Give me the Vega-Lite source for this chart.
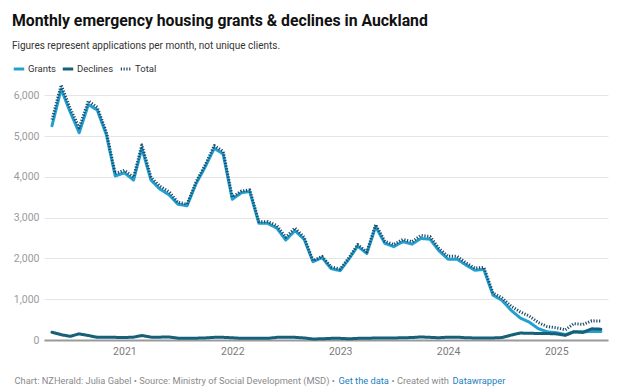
{
  "$schema": "https://vega.github.io/schema/vega-lite/v6.json",
  "width": 564,
  "height": 257,
  "autosize": {"type": "none"},
  "padding": {"left": 44, "top": 83, "right": 11, "bottom": 52},
  "background": "white",
  "config": {"view": {"stroke": null}, "font": "Roboto"},
  "title": {
    "text": "Monthly emergency housing grants & declines in Auckland",
    "subtitle": "Figures represent applications per month, not unique clients.",
    "anchor": "start",
    "frame": "group",
    "dx": -32,
    "font": "Roboto",
    "fontSize": 15.8,
    "fontWeight": "bold",
    "color": "#111111",
    "subtitleFont": "Roboto",
    "subtitleFontSize": 10,
    "subtitleColor": "#333333",
    "subtitlePadding": 11,
    "offset": 10
  },
  "data": {
    "values": [
      {"month": "2020-05-01", "Grants": 5250, "Declines": 190, "Total": 5400},
      {"month": "2020-06-01", "Grants": 6150, "Declines": 130, "Total": 6250},
      {"month": "2020-07-01", "Grants": 5600, "Declines": 90, "Total": 5690},
      {"month": "2020-08-01", "Grants": 5080, "Declines": 150, "Total": 5200},
      {"month": "2020-09-01", "Grants": 5770, "Declines": 110, "Total": 5860},
      {"month": "2020-10-01", "Grants": 5640, "Declines": 65, "Total": 5705},
      {"month": "2020-11-01", "Grants": 5030, "Declines": 70, "Total": 5100},
      {"month": "2020-12-01", "Grants": 4020, "Declines": 65, "Total": 4085},
      {"month": "2021-01-01", "Grants": 4100, "Declines": 60, "Total": 4160},
      {"month": "2021-02-01", "Grants": 3920, "Declines": 70, "Total": 3990},
      {"month": "2021-03-01", "Grants": 4700, "Declines": 110, "Total": 4780},
      {"month": "2021-04-01", "Grants": 3920, "Declines": 70, "Total": 3990},
      {"month": "2021-05-01", "Grants": 3700, "Declines": 70, "Total": 3770},
      {"month": "2021-06-01", "Grants": 3560, "Declines": 75, "Total": 3635},
      {"month": "2021-07-01", "Grants": 3330, "Declines": 45, "Total": 3375},
      {"month": "2021-08-01", "Grants": 3290, "Declines": 40, "Total": 3330},
      {"month": "2021-09-01", "Grants": 3840, "Declines": 45, "Total": 3885},
      {"month": "2021-10-01", "Grants": 4240, "Declines": 50, "Total": 4290},
      {"month": "2021-11-01", "Grants": 4700, "Declines": 65, "Total": 4765},
      {"month": "2021-12-01", "Grants": 4560, "Declines": 65, "Total": 4625},
      {"month": "2022-01-01", "Grants": 3450, "Declines": 55, "Total": 3505},
      {"month": "2022-02-01", "Grants": 3610, "Declines": 40, "Total": 3650},
      {"month": "2022-03-01", "Grants": 3640, "Declines": 40, "Total": 3680},
      {"month": "2022-04-01", "Grants": 2860, "Declines": 40, "Total": 2900},
      {"month": "2022-05-01", "Grants": 2860, "Declines": 40, "Total": 2900},
      {"month": "2022-06-01", "Grants": 2740, "Declines": 65, "Total": 2805},
      {"month": "2022-07-01", "Grants": 2450, "Declines": 65, "Total": 2515},
      {"month": "2022-08-01", "Grants": 2680, "Declines": 65, "Total": 2745},
      {"month": "2022-09-01", "Grants": 2470, "Declines": 50, "Total": 2520},
      {"month": "2022-10-01", "Grants": 1920, "Declines": 25, "Total": 1945},
      {"month": "2022-11-01", "Grants": 2020, "Declines": 30, "Total": 2050},
      {"month": "2022-12-01", "Grants": 1750, "Declines": 40, "Total": 1790},
      {"month": "2023-01-01", "Grants": 1700, "Declines": 40, "Total": 1740},
      {"month": "2023-02-01", "Grants": 2000, "Declines": 30, "Total": 2030},
      {"month": "2023-03-01", "Grants": 2300, "Declines": 40, "Total": 2340},
      {"month": "2023-04-01", "Grants": 2120, "Declines": 40, "Total": 2160},
      {"month": "2023-05-01", "Grants": 2780, "Declines": 50, "Total": 2830},
      {"month": "2023-06-01", "Grants": 2370, "Declines": 50, "Total": 2420},
      {"month": "2023-07-01", "Grants": 2290, "Declines": 50, "Total": 2340},
      {"month": "2023-08-01", "Grants": 2410, "Declines": 55, "Total": 2465},
      {"month": "2023-09-01", "Grants": 2350, "Declines": 60, "Total": 2410},
      {"month": "2023-10-01", "Grants": 2490, "Declines": 75, "Total": 2565},
      {"month": "2023-11-01", "Grants": 2470, "Declines": 65, "Total": 2535},
      {"month": "2023-12-01", "Grants": 2190, "Declines": 55, "Total": 2245},
      {"month": "2024-01-01", "Grants": 1980, "Declines": 70, "Total": 2050},
      {"month": "2024-02-01", "Grants": 1980, "Declines": 70, "Total": 2050},
      {"month": "2024-03-01", "Grants": 1840, "Declines": 55, "Total": 1895},
      {"month": "2024-04-01", "Grants": 1710, "Declines": 50, "Total": 1760},
      {"month": "2024-05-01", "Grants": 1730, "Declines": 50, "Total": 1780},
      {"month": "2024-06-01", "Grants": 1100, "Declines": 50, "Total": 1150},
      {"month": "2024-07-01", "Grants": 975, "Declines": 60, "Total": 1035},
      {"month": "2024-08-01", "Grants": 730, "Declines": 120, "Total": 830},
      {"month": "2024-09-01", "Grants": 540, "Declines": 170, "Total": 690},
      {"month": "2024-10-01", "Grants": 440, "Declines": 165, "Total": 590},
      {"month": "2024-11-01", "Grants": 280, "Declines": 160, "Total": 430},
      {"month": "2024-12-01", "Grants": 200, "Declines": 160, "Total": 330},
      {"month": "2025-01-01", "Grants": 180, "Declines": 150, "Total": 300},
      {"month": "2025-02-01", "Grants": 130, "Declines": 115, "Total": 250},
      {"month": "2025-03-01", "Grants": 200, "Declines": 200, "Total": 400},
      {"month": "2025-04-01", "Grants": 200, "Declines": 185, "Total": 380},
      {"month": "2025-05-01", "Grants": 210, "Declines": 275, "Total": 470},
      {"month": "2025-06-01", "Grants": 210, "Declines": 265, "Total": 465}
    ]
  },
  "transform": [{"fold": ["Grants", "Declines", "Total"], "as": ["series", "value"]}],
  "encoding": {
    "color": {
      "field": "series",
      "type": "ordinal",
      "scale": {"domain": ["Grants", "Declines", "Total"], "range": ["#22a0d0", "#17607a", "#1d4a68"]},
      "legend": {
        "orient": "none",
        "legendX": -32,
        "legendY": -21,
        "direction": "horizontal",
        "title": null,
        "symbolType": "stroke",
        "symbolSize": 110,
        "labelFont": "Roboto",
        "labelFontSize": 9.5,
        "labelColor": "#333333",
        "labelOffset": 2,
        "columnPadding": 0,
        "gridAlign": "none"
      }
    },
    "strokeDash": {
      "field": "series",
      "type": "ordinal",
      "scale": {"domain": ["Grants", "Declines", "Total"], "range": [[1, 0], [1, 0], [1.2, 1.6]]}
    },
    "strokeWidth": {
      "field": "series",
      "type": "ordinal",
      "scale": {"domain": ["Grants", "Declines", "Total"], "range": [3, 3, 1.1]}
    }
  },
  "resolve": {
    "scale": {"x": "independent", "y": "independent"},
    "axis": {"x": "independent", "y": "independent"}
  },
  "layer": [
    {
      "transform": [{"filter": "datum.series === 'Grants'"}],
      "mark": {"type": "line", "strokeJoin": "round", "strokeCap": "round"},
      "encoding": {
        "x": {
          "field": "month",
          "type": "temporal",
          "scale": {
            "type": "utc",
            "domain": [
              {"year": 2020, "month": 4, "date": 4, "utc": true},
              {"year": 2025, "month": 6, "date": 25, "utc": true}
            ]
          },
          "axis": {
            "orient": "bottom",
            "values": [
              {"year": 2021, "month": 1, "date": 1, "utc": true},
              {"year": 2022, "month": 1, "date": 1, "utc": true},
              {"year": 2023, "month": 1, "date": 1, "utc": true},
              {"year": 2024, "month": 1, "date": 1, "utc": true},
              {"year": 2025, "month": 1, "date": 1, "utc": true}
            ],
            "format": "%Y",
            "grid": false,
            "ticks": false,
            "domain": true,
            "domainColor": "#9a9a9a",
            "domainWidth": 2,
            "labelColor": "#7a7a7a",
            "labelFont": "Roboto",
            "labelFontSize": 10.5,
            "labelPadding": 6,
            "title": "Chart: NZHerald: Julia Gabel • Source: Ministry of Social Development (MSD) •",
            "titleAnchor": "start",
            "titleAlign": "left",
            "titleX": -30,
            "titleY": 40,
            "titleBaseline": "middle",
            "titleFont": "Roboto",
            "titleFontSize": 9.3,
            "titleFontWeight": "normal",
            "titleColor": "#8a8a8a"
          }
        },
        "y": {
          "field": "value",
          "type": "quantitative",
          "scale": {"domain": [0, 6300], "nice": false},
          "axis": {
            "orient": "left",
            "values": [0, 1000, 2000, 3000, 4000, 5000, 6000],
            "format": ",.0f",
            "domain": false,
            "ticks": false,
            "grid": true,
            "gridColor": "#e6e6e6",
            "gridWidth": 1,
            "labelColor": "#9a9a9a",
            "labelFont": "Roboto",
            "labelFontSize": 10.5,
            "labelPadding": 5,
            "title": "Get the data",
            "titleAngle": 0,
            "titleAlign": "left",
            "titleBaseline": "middle",
            "titleX": 294,
            "titleY": 297,
            "titleFont": "Roboto",
            "titleFontSize": 9.3,
            "titleFontWeight": "normal",
            "titleColor": "#1d7fc0"
          }
        }
      }
    },
    {
      "transform": [{"filter": "datum.series === 'Declines'"}],
      "mark": {"type": "line", "strokeJoin": "round", "strokeCap": "round"},
      "encoding": {
        "x": {
          "field": "month",
          "type": "temporal",
          "scale": {
            "type": "utc",
            "domain": [
              {"year": 2020, "month": 4, "date": 4, "utc": true},
              {"year": 2025, "month": 6, "date": 25, "utc": true}
            ]
          },
          "axis": {
            "orient": "top",
            "labels": false,
            "ticks": false,
            "domain": false,
            "grid": false,
            "title": "• Created with",
            "titleAnchor": "start",
            "titleAlign": "left",
            "titleX": 347,
            "titleY": 297,
            "titleBaseline": "middle",
            "titleFont": "Roboto",
            "titleFontSize": 9.3,
            "titleFontWeight": "normal",
            "titleColor": "#8a8a8a"
          }
        },
        "y": {
          "field": "value",
          "type": "quantitative",
          "scale": {"domain": [0, 6300], "nice": false},
          "axis": {
            "orient": "right",
            "labels": false,
            "ticks": false,
            "domain": false,
            "grid": false,
            "title": "Datawrapper",
            "titleAngle": 0,
            "titleAlign": "left",
            "titleBaseline": "middle",
            "titleX": -156,
            "titleY": 297,
            "titleFont": "Roboto",
            "titleFontSize": 9.3,
            "titleFontWeight": "normal",
            "titleColor": "#1d7fc0"
          }
        }
      }
    },
    {
      "transform": [{"filter": "datum.series === 'Total'"}],
      "mark": {"type": "line", "strokeJoin": "round"},
      "encoding": {
        "x": {
          "field": "month",
          "type": "temporal",
          "scale": {
            "type": "utc",
            "domain": [
              {"year": 2020, "month": 4, "date": 4, "utc": true},
              {"year": 2025, "month": 6, "date": 25, "utc": true}
            ]
          },
          "axis": null
        },
        "y": {
          "field": "value",
          "type": "quantitative",
          "scale": {"domain": [0, 6300], "nice": false},
          "axis": null
        }
      }
    }
  ]
}
